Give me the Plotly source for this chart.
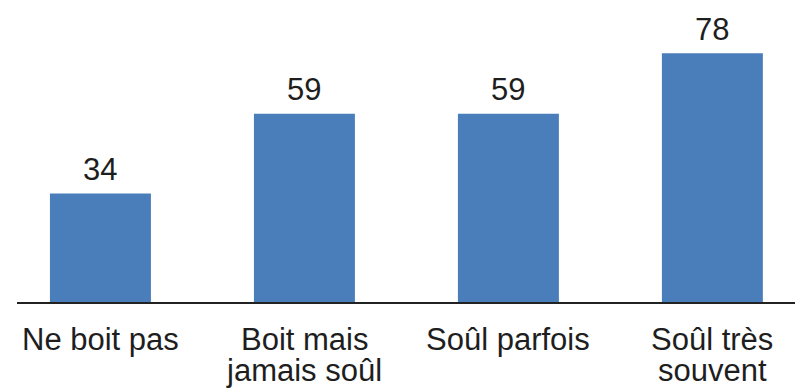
import plotly.graph_objects as go

categories = ["Ne boit pas", "Boit mais\njamais soûl", "Soûl parfois", "Soûl très\nsouvent"]
values = [34, 59, 59, 78]

BAR_COLOR = "#4A7EBB"
TEXT_COLOR = "#1E1E1E"
FONT = "Liberation Sans, Arial, sans-serif"
FS = 31

fig = go.Figure()
fig.add_trace(go.Bar(
    x=list(range(len(categories))),
    y=values,
    width=0.495,
    marker=dict(color=BAR_COLOR, line=dict(width=0)),
    hoverinfo="skip",
))

annotations = []
for i, v in enumerate(values):
    annotations.append(dict(
        x=i, y=v, xref="x", yref="y", text=str(v), showarrow=False,
        yanchor="middle", xanchor="center", yshift=24,
        font=dict(family=FONT, size=FS, color=TEXT_COLOR),
    ))
for i, cat in enumerate(categories):
    for j, line in enumerate(cat.split("\n")):
        annotations.append(dict(
            x=i, y=0, xref="x", yref="paper", text=line, showarrow=False,
            yanchor="middle", xanchor="center", yshift=-37 - 31 * j,
            font=dict(family=FONT, size=FS, color=TEXT_COLOR),
        ))

fig.update_layout(
    width=795, height=388,
    margin=dict(l=17, r=0, t=15, b=86),
    paper_bgcolor="white", plot_bgcolor="white",
    showlegend=False,
    annotations=annotations,
    xaxis=dict(
        range=[-0.409, 3.405], showticklabels=False, showgrid=False,
        zeroline=False, showline=True, linecolor="#222222", linewidth=2,
        ticks="", fixedrange=True,
    ),
    yaxis=dict(
        range=[0, 90], visible=False, showgrid=False, zeroline=False,
        fixedrange=True,
    ),
)

fig.write_html("out.html", config={"displayModeBar": False})
